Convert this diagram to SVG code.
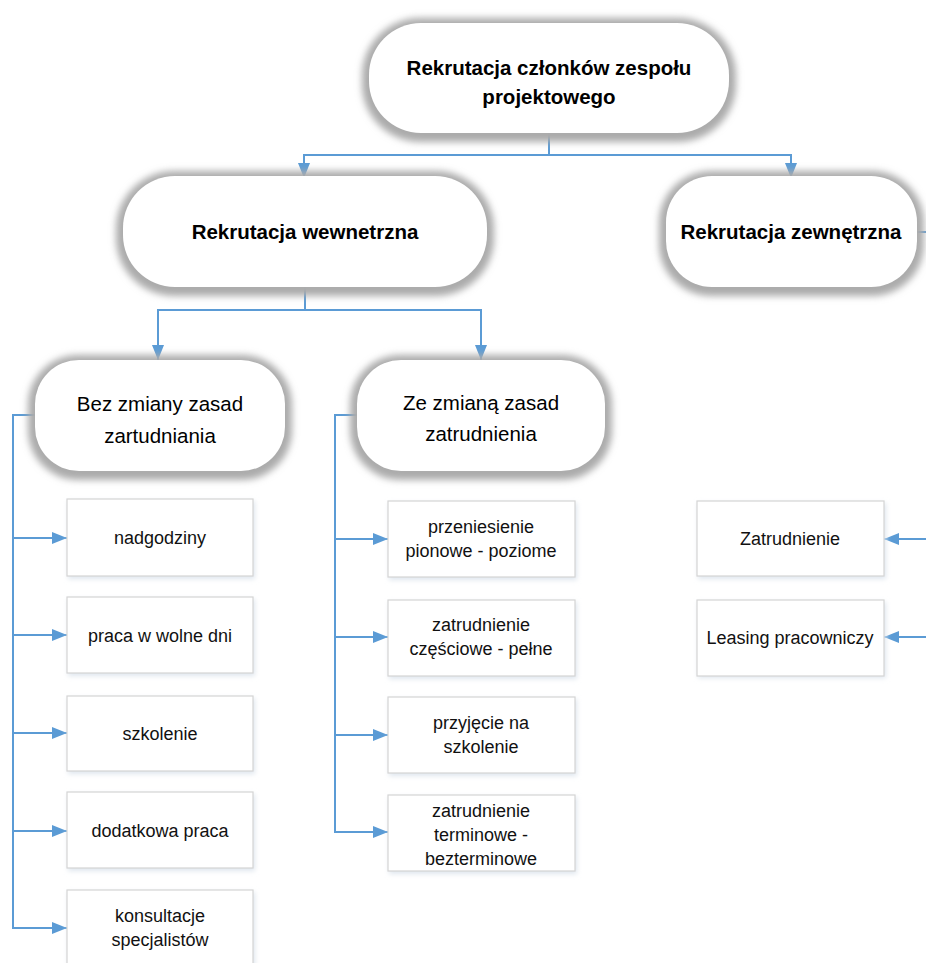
<svg xmlns="http://www.w3.org/2000/svg" width="926" height="963" viewBox="0 0 926 963">
  <style>
    .pill { fill: #ffffff; }
    .glow { fill: #ababab; filter: url(#soft); }
    .box { fill: #ffffff; stroke: #d4d4d4; stroke-width: 1.2; }
    .boxsh { fill: #dfe6ee; filter: url(#softsm); }
    .conn { fill: none; stroke: #5b9bd5; stroke-width: 2; }
    .t-bold { font-family: "Liberation Sans", Arial, sans-serif; font-weight: bold; font-size: 20.5px; fill: #000; text-anchor: middle; }
    .t-mid { font-family: "Liberation Sans", Arial, sans-serif; font-size: 20.5px; fill: #000; text-anchor: middle; }
    .t-sm { font-family: "Liberation Sans", Arial, sans-serif; font-size: 18px; fill: #111; text-anchor: middle; }
  </style>
  <defs>
    <filter id="soft" x="-20%" y="-30%" width="140%" height="160%">
      <feGaussianBlur stdDeviation="3.5"/>
    </filter>
    <filter id="softsm" x="-20%" y="-30%" width="140%" height="160%">
      <feGaussianBlur stdDeviation="2.5"/>
    </filter>
    <!-- filled triangular arrowhead, 15 long x 12 wide -->
    <marker id="arrow" viewBox="0 0 15 12" refX="15" refY="6" markerWidth="15" markerHeight="12" orient="auto" markerUnits="userSpaceOnUse">
      <path d="M0,0 L15,6 L0,12 z" fill="#5b9bd5"/>
    </marker>
  </defs>

  <rect width="926" height="963" fill="#ffffff"/>

  <!-- connectors -->
  <g id="connectors">
    <path class="conn" d="M549,133 V155 H304 V178" marker-end="url(#arrow)"/>
    <path class="conn" d="M549,155 H791 V178" marker-end="url(#arrow)"/>
    <path class="conn" d="M305,287 V310 H158 V360" marker-end="url(#arrow)"/>
    <path class="conn" d="M305,310 H481 V360" marker-end="url(#arrow)"/>
    <path class="conn" d="M917,232 H932"/>
    <!-- left column -->
    <path class="conn" d="M36,415 H13 V928 H67" marker-end="url(#arrow)"/>
    <path class="conn" d="M13,538 H67" marker-end="url(#arrow)"/>
    <path class="conn" d="M13,635 H67" marker-end="url(#arrow)"/>
    <path class="conn" d="M13,733 H67" marker-end="url(#arrow)"/>
    <path class="conn" d="M13,831 H67" marker-end="url(#arrow)"/>
    <!-- middle column -->
    <path class="conn" d="M358,415 H335 V832 H388" marker-end="url(#arrow)"/>
    <path class="conn" d="M335,539 H388" marker-end="url(#arrow)"/>
    <path class="conn" d="M335,637 H388" marker-end="url(#arrow)"/>
    <path class="conn" d="M335,735 H388" marker-end="url(#arrow)"/>
    <!-- right column -->
    <path class="conn" d="M932,539 H884" marker-end="url(#arrow)"/>
    <path class="conn" d="M932,637 H884" marker-end="url(#arrow)"/>
  </g>

  <g id="n-root">
    <rect class="glow" x="362" y="18" width="374" height="124" rx="58"/>
    <rect class="pill" x="369" y="23" width="360" height="110" rx="52"/>
    <text class="t-bold" x="549" y="75">Rekrutacja członków zespołu</text>
    <text class="t-bold" x="549" y="104">projektowego</text>
  </g>

  <g id="n-wew">
    <rect class="glow" x="116" y="171" width="378" height="125" rx="58"/>
    <rect class="pill" x="123" y="176" width="364" height="111" rx="52"/>
    <text class="t-bold" x="305" y="239">Rekrutacja wewnetrzna</text>
  </g>

  <g id="n-zew">
    <rect class="glow" x="659" y="171" width="265" height="125" rx="52"/>
    <rect class="pill" x="666" y="176" width="251" height="111" rx="46"/>
    <text class="t-bold" x="791" y="239">Rekrutacja zewnętrzna</text>
  </g>

  <g id="n-bez">
    <rect class="glow" x="28" y="355" width="264" height="125" rx="50"/>
    <rect class="pill" x="35" y="360" width="250" height="111" rx="44"/>
    <text class="t-mid" x="160" y="411">Bez zmiany zasad</text>
    <text class="t-mid" x="160" y="443">zartudniania</text>
  </g>

  <g id="n-ze">
    <rect class="glow" x="350" y="355" width="262" height="125" rx="50"/>
    <rect class="pill" x="357" y="360" width="248" height="111" rx="44"/>
    <text class="t-mid" x="481" y="410">Ze zmianą zasad</text>
    <text class="t-mid" x="481" y="441">zatrudnienia</text>
  </g>

  <!-- left column boxes -->
  <g id="n-nadgodziny">
    <rect class="boxsh" x="68" y="501" width="187" height="78"/>
    <rect class="box" x="67" y="499" width="186" height="77"/>
    <text class="t-sm" x="160" y="544">nadgodziny</text>
  </g>
  <g id="n-wolne">
    <rect class="boxsh" x="68" y="599" width="187" height="77"/>
    <rect class="box" x="67" y="597" width="186" height="76"/>
    <text class="t-sm" x="160" y="642">praca w wolne dni</text>
  </g>
  <g id="n-szkolenie">
    <rect class="boxsh" x="68" y="698" width="187" height="76"/>
    <rect class="box" x="67" y="696" width="186" height="75"/>
    <text class="t-sm" x="160" y="740">szkolenie</text>
  </g>
  <g id="n-dodatkowa">
    <rect class="boxsh" x="68" y="794" width="187" height="77"/>
    <rect class="box" x="67" y="792" width="186" height="76"/>
    <text class="t-sm" x="160" y="837">dodatkowa praca</text>
  </g>
  <g id="n-konsultacje">
    <rect class="boxsh" x="68" y="892" width="187" height="78"/>
    <rect class="box" x="67" y="890" width="186" height="78"/>
    <text class="t-sm" x="160" y="922">konsultacje</text>
    <text class="t-sm" x="160" y="946">specjalistów</text>
  </g>

  <!-- middle column boxes -->
  <g id="n-przeniesienie">
    <rect class="boxsh" x="389" y="503" width="188" height="77"/>
    <rect class="box" x="388" y="501" width="187" height="76"/>
    <text class="t-sm" x="481" y="533">przeniesienie</text>
    <text class="t-sm" x="481" y="557">pionowe - poziome</text>
  </g>
  <g id="n-czesciowe">
    <rect class="boxsh" x="389" y="602" width="188" height="77"/>
    <rect class="box" x="388" y="600" width="187" height="76"/>
    <text class="t-sm" x="481" y="631">zatrudnienie</text>
    <text class="t-sm" x="481" y="655">częściowe - pełne</text>
  </g>
  <g id="n-przyjecie">
    <rect class="boxsh" x="389" y="699" width="188" height="77"/>
    <rect class="box" x="388" y="697" width="187" height="76"/>
    <text class="t-sm" x="481" y="729">przyjęcie na</text>
    <text class="t-sm" x="481" y="753">szkolenie</text>
  </g>
  <g id="n-terminowe">
    <rect class="boxsh" x="389" y="797" width="188" height="77"/>
    <rect class="box" x="388" y="795" width="187" height="76"/>
    <text class="t-sm" x="481" y="817">zatrudnienie</text>
    <text class="t-sm" x="481" y="841">terminowe -</text>
    <text class="t-sm" x="481" y="865">bezterminowe</text>
  </g>

  <!-- right column boxes -->
  <g id="n-zatrudnienie">
    <rect class="boxsh" x="698" y="503" width="188" height="76"/>
    <rect class="box" x="697" y="501" width="187" height="75"/>
    <text class="t-sm" x="790" y="545">Zatrudnienie</text>
  </g>
  <g id="n-leasing">
    <rect class="boxsh" x="698" y="602" width="188" height="76"/>
    <rect class="box" x="697" y="600" width="187" height="76"/>
    <text class="t-sm" x="790" y="644">Leasing pracowniczy</text>
  </g>
</svg>
